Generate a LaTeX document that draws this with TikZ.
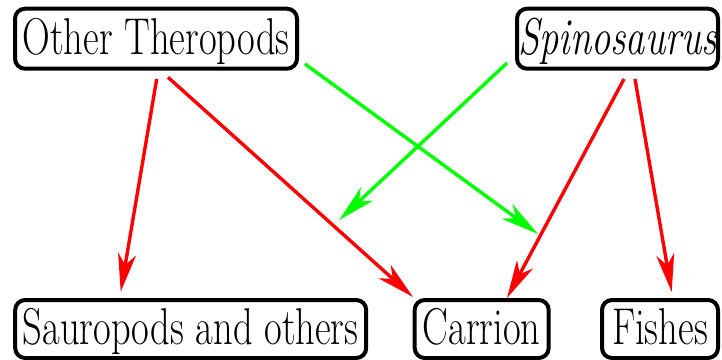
\documentclass[tikz,border=0pt]{standalone}
\usepackage{graphicx}
\usetikzlibrary{arrows.meta,calc}
\newcommand{\vtx}[1]{\scalebox{1}[1.345]{#1}}
\tikzset{
  box/.style={draw=black, line width=4pt, rounded corners=10pt, outer sep=0pt,
    inner sep=0pt, minimum height=60pt, text height=38pt, text depth=7pt,
    font=\fontsize{38.5}{46}\selectfont},
  redarr/.style={draw=red, line width=3.4pt, -{Stealth[length=38pt, width=18pt, inset=11pt]}},
  greenarr/.style={draw=green, line width=3.4pt, -{Stealth[length=38pt, width=18pt, inset=11pt]}}
}
\begin{document}
\begin{tikzpicture}[x=1pt, y=-1pt]
\useasboundingbox (0,0) rectangle (722,359);
\node[box, minimum width=282pt] (ot) at (156,38.7) {\vtx{Other Theropods}};
\node[box, minimum width=201pt] (sp) at (617.5,38.7) {\vtx{\itshape Spinosaurus}};
\node[box, minimum width=351pt, minimum height=58pt] (sa) at (190.7,329) {\vtx{Sauropods and others}};
\node[box, minimum width=134pt, minimum height=58pt] (ca) at (481.7,329) {\vtx{Carrion}};
\node[box, minimum width=116pt, minimum height=58pt] (fi) at (660,329) {\vtx{Fishes}};

\draw[redarr] ($(ot.south)+(0.7,10.3)$) -- ($(sa.north)+(-70,-8.3)$);
\draw[redarr] ($(ot.south)+(12,8.6)$) -- ($(ca.north west)+(-1.7,-3)$);
\draw[greenarr] ($(ot.south east)+(8,-4.7)$) -- ($(ca.north east)+(-10.7,-66)$);
\draw[greenarr] ($(sp.south west)+(-10,-5.7)$) -- ($(sa.north east)+(-27,-80)$);
\draw[redarr] ($(sp.south)+(6.5,10.3)$) -- ($(ca.north)+(25.3,-2)$);
\draw[redarr] ($(sp.south)+(17.5,10.3)$) -- ($(fi.north)+(11.7,-8)$);
\end{tikzpicture}
\end{document}
